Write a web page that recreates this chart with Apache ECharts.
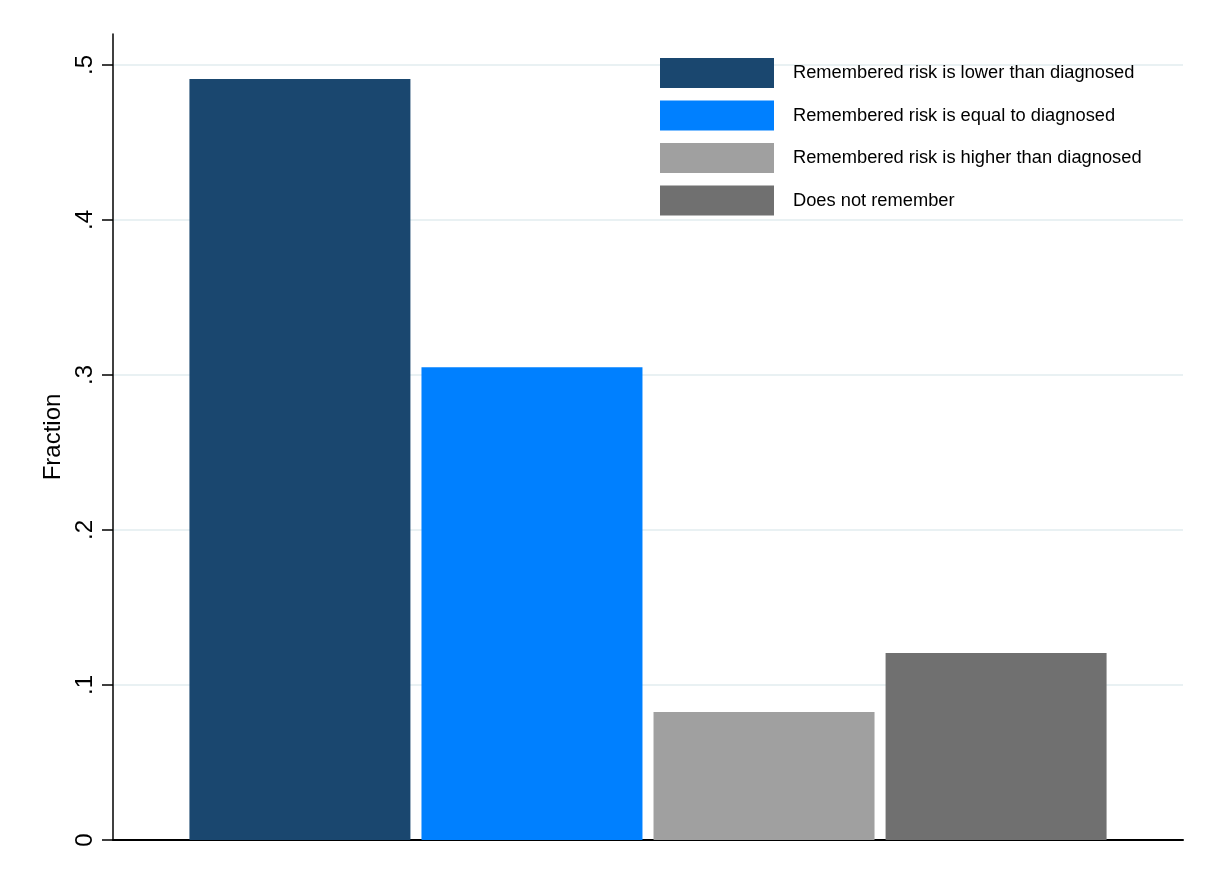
<!DOCTYPE html>
<html>
<head>
<meta charset="utf-8">
<script src="https://cdn.jsdelivr.net/npm/echarts@6/dist/echarts.min.js"></script>
<style>
html,body{margin:0;padding:0;background:#fff;}
#chart{width:1206px;height:878px;}
</style>
</head>
<body>
<div id="chart"></div>
<script>
const categories = [
  'Remembered risk is lower than diagnosed',
  'Remembered risk is equal to diagnosed',
  'Remembered risk is higher than diagnosed',
  'Does not remember'
];
const fractions = [0.491, 0.305, 0.0826, 0.1206];
const tickValues = [0, 0.1, 0.2, 0.3, 0.4, 0.5];
const tickLabels = ['0', '.1', '.2', '.3', '.4', '.5'];
const barColors = ['#1a476f', '#0080ff', '#a0a0a0', '#707070'];

const chart = echarts.init(document.getElementById('chart'));
const font = 'Liberation Sans, Arial, Helvetica, sans-serif';

function labelFor(v) {
  let best = 0, bd = Infinity;
  tickValues.forEach((t, i) => { const d = Math.abs(t - v); if (d < bd) { bd = d; best = i; } });
  return bd < 1e-6 ? tickLabels[best] : '';
}

chart.setOption({
  animation: false,
  backgroundColor: '#ffffff',
  textStyle: { fontFamily: font },
  grid: { left: 113, right: 23, top: 34, bottom: 38, containLabel: false },
  legend: {
    orient: 'vertical',
    left: 660,
    top: 58,
    padding: 0,
    itemWidth: 114,
    itemHeight: 30,
    itemGap: 12.5,
    icon: 'rect',
    textStyle: { fontSize: 18.3, color: '#000', fontFamily: font, padding: [3, 0, 0, 14] },
    data: categories
  },
  xAxis: {
    type: 'category',
    data: [''],
    axisLine: { show: true, onZero: false, lineStyle: { color: '#000', width: 2 } },
    axisTick: { show: false },
    axisLabel: { show: false },
    splitLine: { show: false }
  },
  yAxis: {
    type: 'value',
    min: 0,
    max: 0.52,
    name: 'Fraction',
    nameLocation: 'middle',
    nameGap: 44,
    nameTextStyle: { fontSize: 24, color: '#000', fontFamily: font },
    axisLine: { show: true, lineStyle: { color: '#000', width: 1.5 } },
    axisTick: { show: true, length: 11, customValues: tickValues, lineStyle: { color: '#000', width: 1.5 } },
    axisLabel: {
      customValues: tickValues,
      rotate: 90,
      margin: 16,
      fontSize: 24,
      color: '#000',
      fontFamily: font,
      formatter: v => labelFor(v)
    },
    splitLine: { show: true, lineStyle: { color: '#e9f1f3', width: 2 } }
  },
  series: categories.map((name, i) => ({
    name: name,
    type: 'bar',
    data: [fractions[i]],
    barWidth: 221,
    barGap: '5%',
    itemStyle: { color: barColors[i] }
  }))
});
</script>
</body>
</html>
